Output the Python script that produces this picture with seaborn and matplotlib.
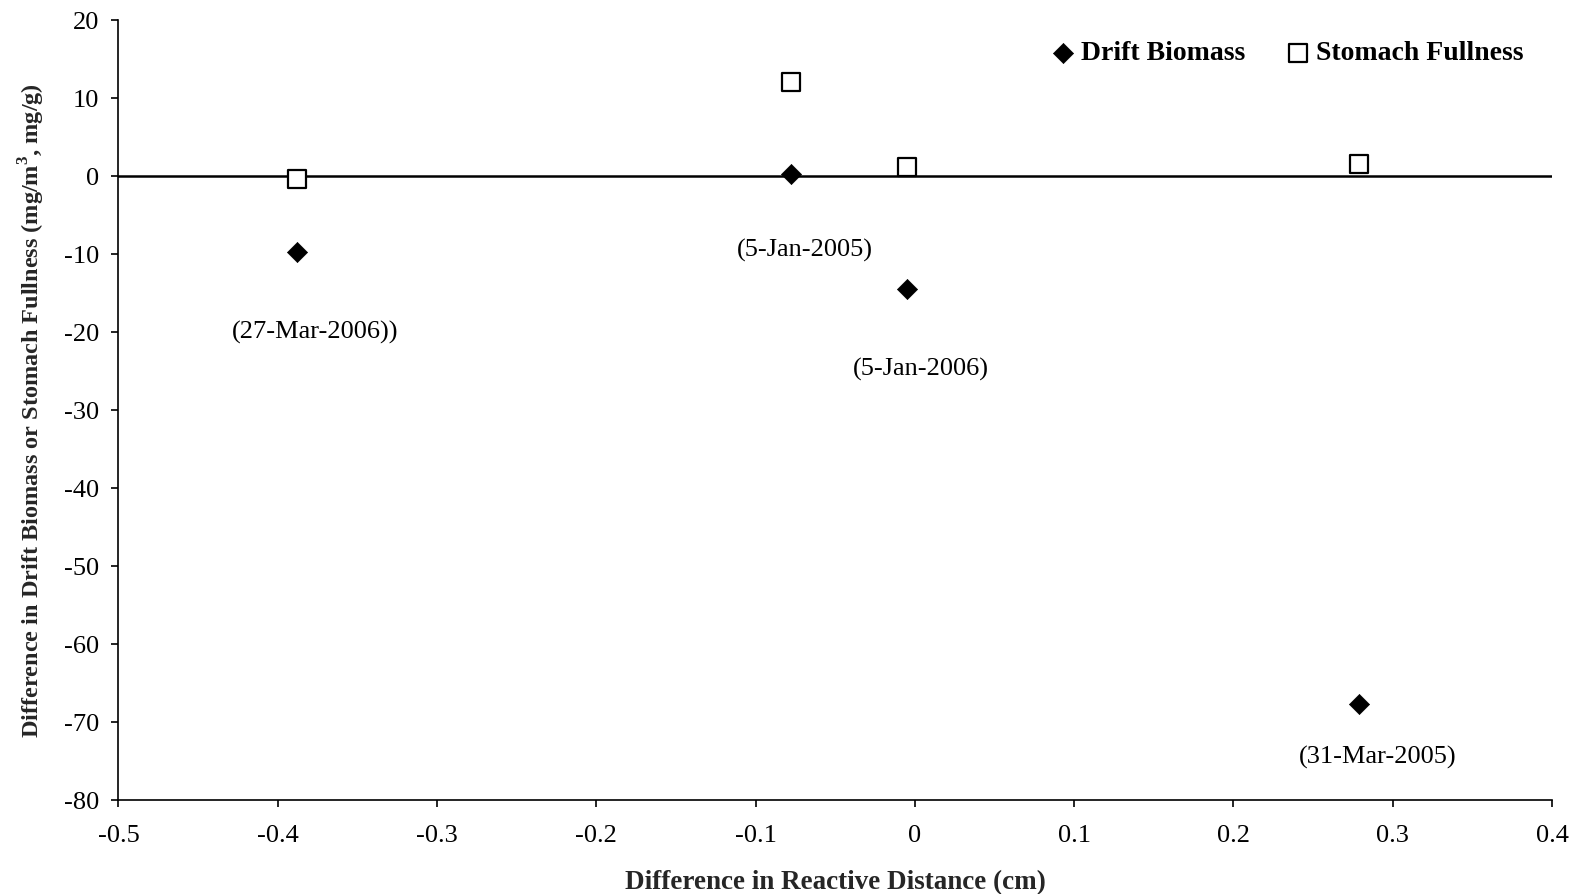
import matplotlib
matplotlib.use("Agg")
import matplotlib.pyplot as plt
import seaborn as sns
import pandas as pd

# Differences between sampling dates
reactive_diff = [-0.388, -0.078, -0.005, 0.279]
drift_biomass = [-9.7, 0.3, -14.5, -67.6]
stomach_fullness = [-0.4, 12.1, 1.2, 1.6]
dates = ["(27-Mar-2006))", "(5-Jan-2005)", "(5-Jan-2006)", "(31-Mar-2005)"]

sns.set_theme(style="white")
plt.rcParams["font.family"] = ["Liberation Serif", "DejaVu Serif"]
plt.rcParams["mathtext.fontset"] = "custom"
plt.rcParams["mathtext.rm"] = "Liberation Serif"
plt.rcParams["mathtext.bf"] = "Liberation Serif:bold"

df = pd.DataFrame({
    "x": reactive_diff,
    "drift": drift_biomass,
    "stomach": stomach_fullness,
    "date": dates,
})

fig = plt.figure(figsize=(15.75, 8.94), dpi=100)
ax = fig.add_axes([0.0752, 0.1046, 0.9102, 0.873])

ax.axhline(0, color="black", lw=1.8, zorder=1)

sns.scatterplot(data=df, x="x", y="drift", marker="D", s=105, color="black",
                edgecolor="black", linewidth=0.5, ax=ax, label="Drift Biomass", zorder=3)
sns.scatterplot(data=df, x="x", y="stomach", marker="s", s=160, facecolor="white",
                edgecolor="black", linewidth=1.6, ax=ax, label="Stomach Fullness", zorder=3)

# Date labels below each drift-biomass point
offsets = [(13, -58), (10, -55), (10, -58), (13, -39)]
for xi, yi, lab, (dx, dy) in zip(df["x"], df["drift"], df["date"], offsets):
    ax.annotate(lab, (xi, yi), xytext=(dx, dy), textcoords="offset points",
                ha="center", va="center", fontsize=19, color="black")

ax.set_xlim(-0.5, 0.4)
ax.set_ylim(-80, 20)
ax.set_xticks([-0.5, -0.4, -0.3, -0.2, -0.1, 0, 0.1, 0.2, 0.3, 0.4])
ax.set_xticklabels(["-0.5", "-0.4", "-0.3", "-0.2", "-0.1", "0", "0.1", "0.2", "0.3", "0.4"])
ax.set_yticks(range(-80, 21, 10))
ax.set_yticklabels([str(v) for v in range(-80, 21, 10)])

ax.tick_params(axis="both", direction="out", length=5, width=1.2, color="black",
               labelsize=19, labelcolor="black", bottom=True, left=True)
ax.tick_params(axis="x", pad=13)
ax.tick_params(axis="y", pad=9)

for side in ["top", "right"]:
    ax.spines[side].set_visible(False)
for side in ["left", "bottom"]:
    ax.spines[side].set_color("black")
    ax.spines[side].set_linewidth(1.2)

ax.set_xlabel("Difference in Reactive Distance (cm)", fontsize=19.5, fontweight="bold",
              labelpad=16)
ax.set_ylabel(r"Difference in Drift Biomass or Stomach Fullness (mg/m$^{\mathbf{3}}$, mg/g)",
              fontsize=17.5, fontweight="bold", labelpad=12)

leg = ax.legend(loc="upper right", ncol=2, frameon=False,
                prop={"weight": "bold", "size": 20}, handlelength=0.8,
                handletextpad=0.25, columnspacing=1.5, borderaxespad=0.0,
                bbox_to_anchor=(0.988, 0.988))
for t in leg.get_texts():
    t.set_color("black")

fig.savefig("out.png", dpi=100, facecolor="white")
